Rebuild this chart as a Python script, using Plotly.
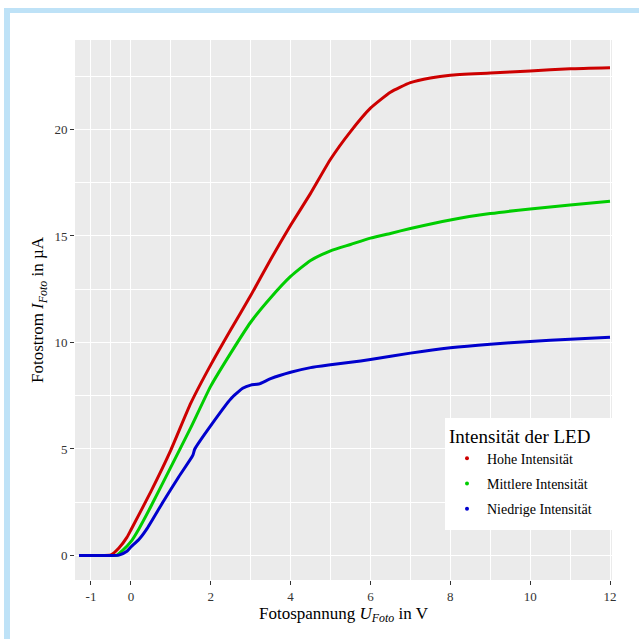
import plotly.graph_objects as go

# ---- data ----
x_hoch = [-1.3, -0.8, -0.5, -0.3, -0.1, 0.0, 0.5, 1.0, 1.5, 2.0, 2.5, 3.0, 3.5, 4.0, 4.5,
          5.0, 5.5, 6.0, 6.5, 7.0, 7.5, 8.0, 9.0, 10.0, 11.0, 12.0]
y_hoch = [0.0, 0.0, 0.03, 0.35, 0.85, 1.2, 3.0, 4.95, 7.15, 8.95, 10.6, 12.2, 13.9, 15.5, 17.0,
          18.6, 19.9, 21.0, 21.75, 22.2, 22.42, 22.55, 22.65, 22.75, 22.85, 22.9]

x_mittel = [-1.3, -0.8, -0.5, -0.35, -0.2, 0.0, 0.2, 0.5, 1.0, 1.5, 2.0, 2.5, 3.0, 3.5, 4.0,
            4.5, 5.0, 5.5, 6.0, 6.5, 7.0, 8.0, 9.0, 10.0, 11.0, 12.0]
y_mittel = [0.0, 0.0, 0.0, 0.02, 0.25, 0.65, 1.25, 2.3, 4.15, 6.0, 7.95, 9.5, 10.95, 12.1, 13.1,
            13.85, 14.3, 14.6, 14.9, 15.12, 15.35, 15.75, 16.05, 16.27, 16.45, 16.63]

x_niedrig = [-1.3, -0.8, -0.5, -0.3, -0.1, 0.0, 0.2, 0.4, 0.8, 1.2, 1.55, 1.6, 2.0, 2.5, 2.8,
             3.0, 3.2, 3.5, 4.0, 4.5, 5.0, 5.5, 6.0, 7.0, 8.0, 9.0, 10.0, 11.0, 12.0]
y_niedrig = [0.0, 0.0, 0.0, 0.02, 0.2, 0.4, 0.75, 1.25, 2.5, 3.7, 4.7, 5.0, 6.1, 7.35, 7.85,
             8.0, 8.05, 8.3, 8.6, 8.82, 8.95, 9.07, 9.2, 9.5, 9.75, 9.92, 10.05, 10.15, 10.25]

series_names = ["Hohe Intensität", "Mittlere Intensität", "Niedrige Intensität"]
series_colors = ["#CD0000", "#00CD00", "#0000CD"]

x_tickvals = [-1, 0, 2, 4, 6, 8, 10, 12]
x_ticktext = ["-1", "0", "2", "4", "6", "8", "10", "12"]
y_tickvals = [0, 5, 10, 15, 20]
x_minor = [-0.5, 1, 3, 5, 7, 9, 11]
y_minor = [2.5, 7.5, 12.5, 17.5, 22.5]

FONT = "Liberation Serif"

fig = go.Figure()
xs = [x_hoch, x_mittel, x_niedrig]
ys = [y_hoch, y_mittel, y_niedrig]
for i, (xx, yy) in enumerate(zip(xs, ys)):
    fig.add_trace(go.Scatter(x=xx, y=yy, mode="lines",
                             line=dict(color=series_colors[i], width=3, shape="spline", smoothing=0.5),
                             showlegend=False, hoverinfo="skip"))
for i, name in enumerate(series_names):
    fig.add_trace(go.Scatter(x=[None], y=[None], mode="markers", name=name,
                             marker=dict(color=series_colors[i], size=4), legendgroup=f"g{i}"))

# plot area geometry (pixels)
W = H = 639
ml, mr, mt, mb = 75, 27, 40, 59
pw, ph = W - ml - mr, H - mt - mb

def px(xp):
    return (xp - ml) / pw

def py(yp):
    return (H - mb - yp) / ph

border = "#BEE2F7"
fig.add_shape(type="rect", xref="paper", yref="paper", x0=px(4), x1=px(10), y0=py(645), y1=py(8),
              fillcolor=border, line=dict(width=0), layer="below")
fig.add_shape(type="rect", xref="paper", yref="paper", x0=px(4), x1=px(645), y0=py(13), y1=py(8),
              fillcolor=border, line=dict(width=0), layer="below")
# white legend box
fig.add_shape(type="rect", xref="paper", yref="paper", x0=px(445), x1=px(612), y0=py(530), y1=py(418),
              fillcolor="white", line=dict(width=0), layer="above")

axis_common = dict(
    showgrid=True, gridcolor="white", gridwidth=1.1, zeroline=False,
    ticks="outside", ticklen=4, tickcolor="#333333", tickwidth=1,
    tickfont=dict(family=FONT, size=13, color="#333333"),
    showline=False,
)

fig.update_layout(
    width=W, height=H,
    margin=dict(l=ml, r=mr, t=mt, b=mb),
    paper_bgcolor="white", plot_bgcolor="#EBEBEB",
    font=dict(family=FONT, color="black"),
    xaxis=dict(range=[-1.4, 12.05], tickvals=x_tickvals, ticktext=x_ticktext,
               title=dict(text="Fotospannung <i>U</i><sub><i>Foto</i></sub> in V", font=dict(size=17), standoff=2),
               minor=dict(tickvals=x_minor, showgrid=True, gridcolor="white", gridwidth=0.5, ticks=""),
               **axis_common),
    yaxis=dict(range=[-1.15, 24.2], tickvals=y_tickvals,
               title=dict(text="Fotostrom <i>I</i><sub><i>Foto</i></sub> in µA", font=dict(size=17), standoff=6),
               minor=dict(tickvals=y_minor, showgrid=True, gridcolor="white", gridwidth=0.5, ticks=""),
               **axis_common),
    legend=dict(x=px(447), y=py(418), xanchor="left", yanchor="top",
                bgcolor="rgba(0,0,0,0)", borderwidth=0,
                title=dict(text="Intensität der LED", font=dict(size=19, family=FONT)),
                font=dict(size=14, family=FONT, color="black"),
                traceorder="grouped", tracegroupgap=4, itemwidth=30),
)

fig.write_html("out.html", post_script="document.body.style.margin='0';",
               config={"displayModeBar": False})
